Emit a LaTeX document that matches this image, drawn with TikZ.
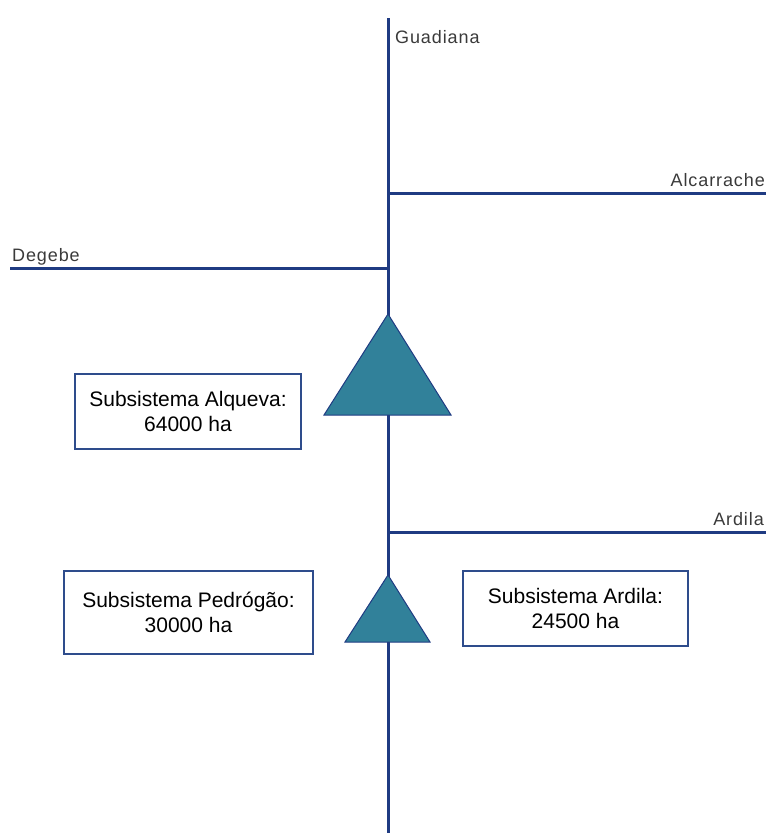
\documentclass[tikz,border=0pt]{standalone}
\usepackage{fontspec}
\setmainfont{Liberation Sans}
\definecolor{river}{HTML}{1F3B82}
\definecolor{dam}{HTML}{31819A}
\definecolor{boxline}{HTML}{2E4C8C}
\definecolor{labelgray}{HTML}{3A3A3A}
\begin{document}
\begin{tikzpicture}[x=1pt,y=-1pt,
  riverline/.style={draw=river,line width=3pt},
  damshape/.style={fill=dam,draw=river,line width=1pt,line join=miter},
  areabox/.style={draw=boxline,line width=1.5pt,fill=white,align=center,
    font=\fontsize{21}{25}\selectfont,text=black,inner sep=0pt},
  rivername/.style={font=\fontsize{18}{20}\selectfont\addfontfeature{LetterSpace=5},
    text=labelgray,inner sep=0pt}]
\useasboundingbox (0,0) rectangle (766,833);

% main stem of the Guadiana
\coordinate (top) at (388,18);
\coordinate (bottom) at (388,833);
\draw[riverline] (top) -- (bottom);

% tributaries
\coordinate (alcA) at (388,193);
\coordinate (alcB) at (766,193);
\coordinate (degA) at (388,268);
\coordinate (degB) at (10,268);
\coordinate (ardA) at (388,532);
\coordinate (ardB) at (766,532);
\draw[riverline] (alcA) -- (alcB);
\draw[riverline] (degA) -- (degB);
\draw[riverline] (ardA) -- (ardB);

% river names
\node[rivername,anchor=base west] (guadiana) at (395,43) {Guadiana};
\node[rivername,anchor=base east] (alcarrache) at (765,186) {Alcarrache};
\node[rivername,anchor=base west] (degebe) at (12,261) {Degebe};
\node[rivername,anchor=base east] (ardila) at (764,525) {Ardila};

% dams
\draw[damshape] (388,314) -- (451,415) -- (324,415) -- cycle;
\draw[damshape] (388,575) -- (430,642) -- (345,642) -- cycle;

% irrigated areas
\node[areabox,minimum width=226pt,minimum height=75pt] (alqueva) at (188,411.5)
  {Subsistema Alqueva:\\64000 ha};
\node[areabox,minimum width=249pt,minimum height=83pt] (pedrogao) at (188.5,612.5)
  {Subsistema Pedrógão:\\30000 ha};
\node[areabox,minimum width=225pt,minimum height=75pt] (ardilabox) at (575.5,608.5)
  {Subsistema Ardila:\\24500 ha};
\end{tikzpicture}
\end{document}
